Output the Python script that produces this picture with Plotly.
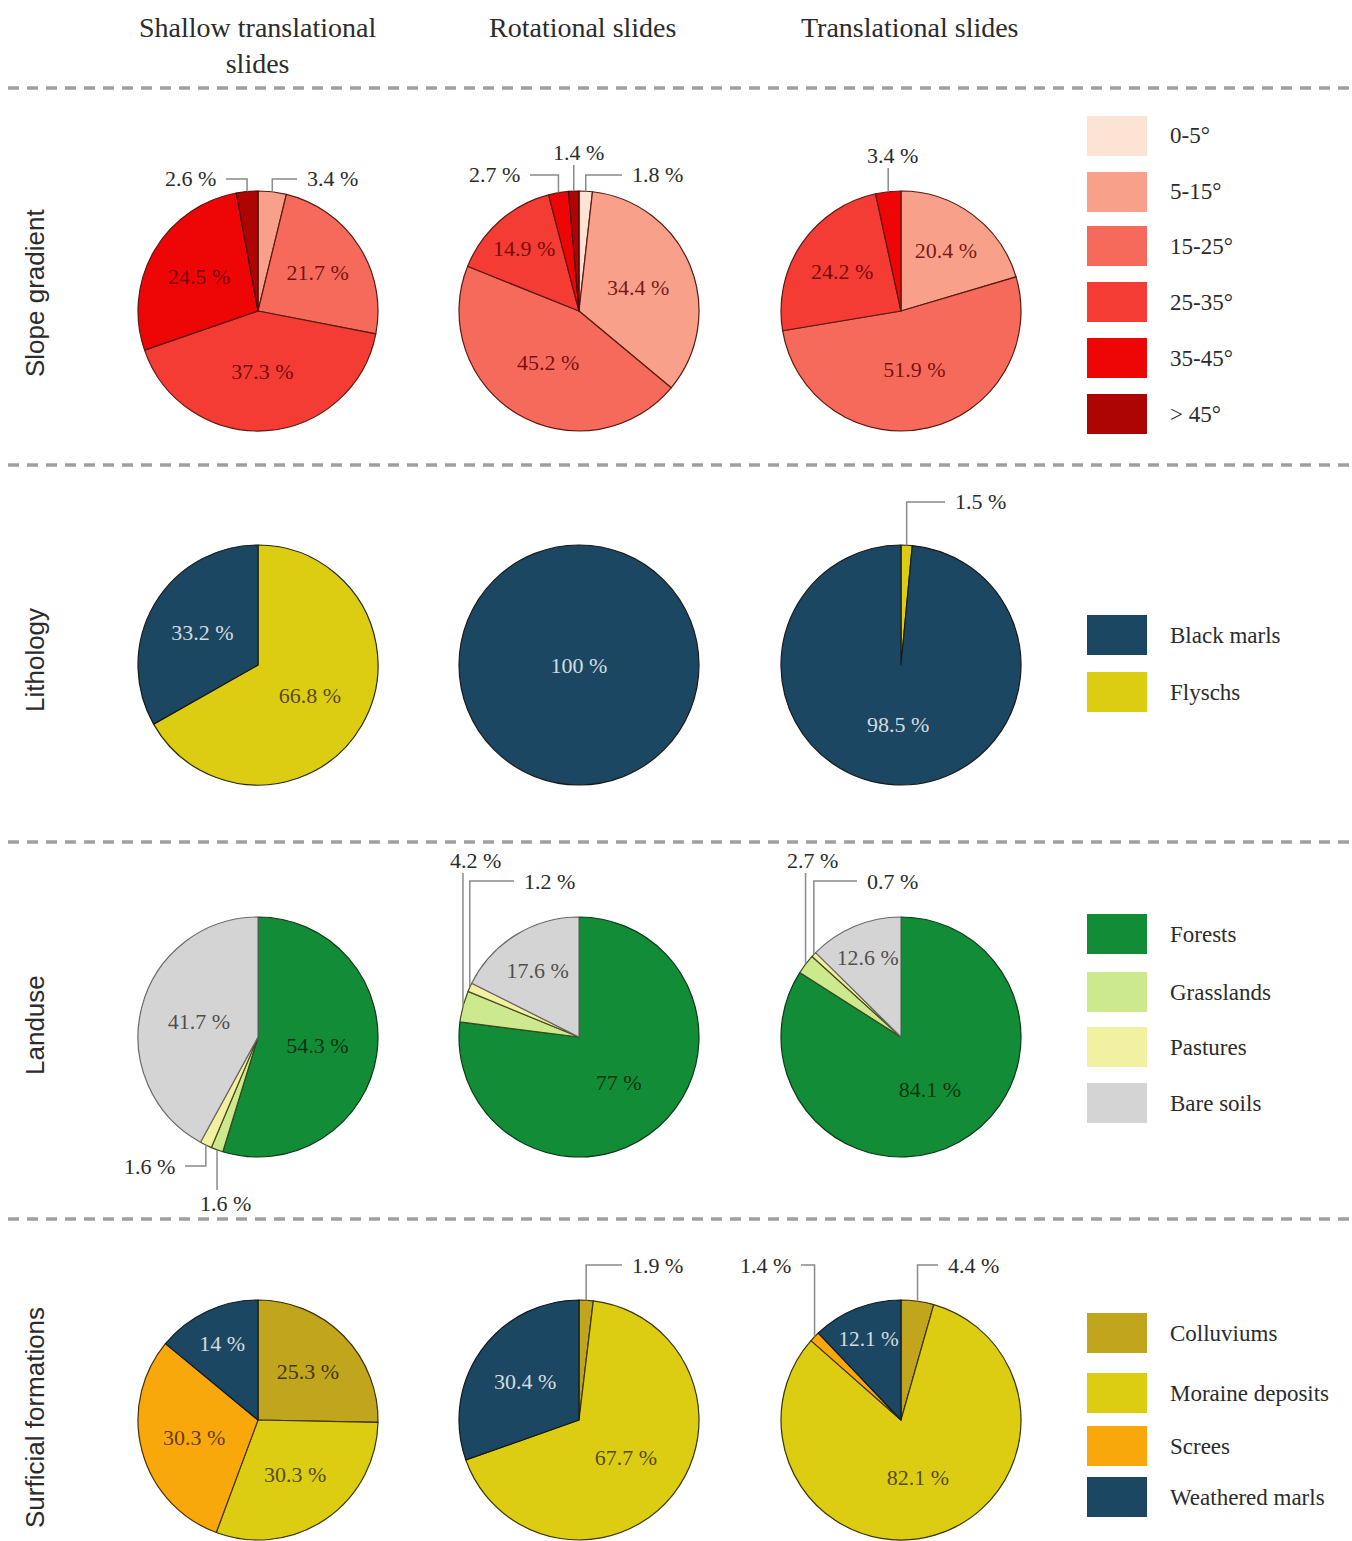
import math
import plotly.graph_objects as go

W, H = 1352, 1541

# ---------------- data ----------------
column_titles = ["Shallow translational<br>slides", "Rotational slides", "Translational slides"]
row_titles = ["Slope gradient", "Lithology", "Landuse", "Surficial formations"]

slope_labels = ["0-5°", "5-15°", "15-25°", "25-35°", "35-45°", "> 45°"]
slope_shallow = [0, 3.4, 21.7, 37.3, 24.5, 2.6]
slope_rotational = [1.8, 34.4, 45.2, 14.9, 2.7, 1.4]
slope_translational = [0, 20.4, 51.9, 24.2, 3.4, 0]

litho_labels = ["Black marls", "Flyschs"]
litho_shallow = [33.2, 66.8]
litho_rotational = [100, 0]
litho_translational = [98.5, 1.5]
litho_pie_order = ["Flyschs", "Black marls"]  # clockwise order from 12 o'clock

landuse_labels = ["Forests", "Grasslands", "Pastures", "Bare soils"]
landuse_shallow = [54.3, 1.6, 1.6, 41.7]
landuse_rotational = [77, 4.2, 1.2, 17.6]
landuse_translational = [84.1, 2.7, 0.7, 12.6]

surf_labels = ["Colluviums", "Moraine deposits", "Screes", "Weathered marls"]
surf_shallow = [25.3, 30.3, 30.3, 14]
surf_rotational = [1.9, 67.7, 0, 30.4]
surf_translational = [4.4, 82.1, 1.4, 12.1]

# ---------------- styles ----------------
SERIF = "Liberation Serif, Times New Roman, serif"
SANS = "Liberation Sans, Arial, sans-serif"
TXT = "#2b2b2b"

fill = {
    "0-5°": "#fde3d4", "5-15°": "#f9a08a", "15-25°": "#f66a5c",
    "25-35°": "#f43c34", "35-45°": "#ee0606", "> 45°": "#ad0404",
    "Black marls": "#1c4762", "Flyschs": "#dccc12",
    "Forests": "#128c37", "Grasslands": "#cde98e", "Pastures": "#f2f1a2", "Bare soils": "#d4d4d4",
    "Colluviums": "#c1a51c", "Moraine deposits": "#dccc12", "Screes": "#f9a80c", "Weathered marls": "#1c4762",
}
edge = {
    "0-5°": "#5a1a10", "5-15°": "#5a1a10", "15-25°": "#5a1a10", "25-35°": "#5a1a10",
    "35-45°": "#5a1a10", "> 45°": "#4a0808",
    "Black marls": "#1a1a1a", "Flyschs": "#2a2a10",
    "Forests": "#0c3a18", "Grasslands": "#3a4a20", "Pastures": "#4a4a20", "Bare soils": "#6a6a6a",
    "Colluviums": "#3a3000", "Moraine deposits": "#3a3500", "Screes": "#4a3000", "Weathered marls": "#101a20",
}
inner_text = {
    "Black marls": "rgba(255,255,255,0.82)", "Weathered marls": "rgba(255,255,255,0.82)",
    "Flyschs": "rgba(60,50,0,0.85)", "Moraine deposits": "rgba(60,50,0,0.85)",
    "Colluviums": "rgba(50,38,0,0.88)", "Screes": "rgba(85,40,0,0.88)",
    "Forests": "rgba(0,40,8,0.88)", "Bare soils": "rgba(60,60,60,0.9)",
}
for k in slope_labels:
    inner_text[k] = "rgba(95,0,0,0.85)"

col_x = [258, 579, 901]
row_y = [311, 665, 1037, 1420]
R = 120

legend_rows = [
    (slope_labels, [136, 192, 246, 302, 358, 414]),
    (litho_labels, [635, 692]),
    (landuse_labels, [934, 992, 1047, 1103]),
    (surf_labels, [1333, 1393, 1446, 1497]),
]

# call-out placement (layout only): (row, col, label) -> (mode, label x, label y)
callouts = {
    (0, 0, "5-15°"): ("right", 305, 179),
    (0, 0, "> 45°"): ("left", 218, 179),
    (0, 1, "35-45°"): ("left", 522, 175),
    (0, 1, "> 45°"): ("up", 578, 152),
    (0, 1, "0-5°"): ("right", 630, 175),
    (0, 2, "35-45°"): ("up", 892, 155),
    (1, 2, "Flyschs"): ("right", 953, 502),
    (2, 0, "Pastures"): ("left", 177, 1166),
    (2, 0, "Grasslands"): ("down", 225, 1203),
    (2, 1, "Grasslands"): ("up", 475, 860),
    (2, 1, "Pastures"): ("right", 522, 881),
    (2, 2, "Grasslands"): ("up", 812, 860),
    (2, 2, "Pastures"): ("right", 865, 881),
    (3, 1, "Colluviums"): ("right", 630, 1265),
    (3, 2, "Screes"): ("left", 793, 1265),
    (3, 2, "Colluviums"): ("right", 946, 1265),
}


def px(x):
    return x / W


def py(y):
    return 1 - y / H


def fmt(v):
    return f"{v:g} %"


grid = [
    (slope_labels, [slope_shallow, slope_rotational, slope_translational], slope_labels),
    (litho_labels, [litho_shallow, litho_rotational, litho_translational], litho_pie_order),
    (landuse_labels, [landuse_shallow, landuse_rotational, landuse_translational], landuse_labels),
    (surf_labels, [surf_shallow, surf_rotational, surf_translational], surf_labels),
]

fig = go.Figure()
shapes = []
annotations = []

for ri, (labels, series_list, order) in enumerate(grid):
    for ci, series in enumerate(series_list):
        val = dict(zip(labels, series))
        labs = [l for l in order if val[l] > 0]
        vals = [val[l] for l in labs]
        total = sum(vals)
        texts = [fmt(v) if v >= 5 else "" for v in vals]
        cx, cy = col_x[ci], row_y[ri]
        fig.add_trace(go.Pie(
            labels=labs, values=vals, text=texts, textinfo="text",
            textposition="inside", insidetextorientation="horizontal",
            sort=False, direction="clockwise", rotation=0,
            marker=dict(colors=[fill[l] for l in labs],
                        line=dict(color=[edge[l] for l in labs], width=1.2)),
            textfont=dict(family=SERIF, size=22, color=[inner_text.get(l, TXT) for l in labs]),
            domain=dict(x=[px(cx - R), px(cx + R)], y=[py(cy + R), py(cy - R)]),
            showlegend=False, hoverinfo="label+text",
        ))
        # call-outs for small slices, anchored on the slice mid-angle
        cum = 0
        for l, v in zip(labs, vals):
            key = (ri, ci, l)
            if key in callouts:
                mode, lx, ly = callouts[key]
                ang = math.radians(360 * (cum + v / 2) / total)
                ax = cx + R * math.sin(ang)
                ay = cy - R * math.cos(ang)
                if mode == "right":
                    path = f"M{px(ax)},{py(ay)} L{px(ax)},{py(ly)} L{px(lx - 8)},{py(ly)}"
                    annotations.append(dict(x=px(lx), y=py(ly), text=fmt(v), xanchor="left", yanchor="middle"))
                elif mode == "left":
                    path = f"M{px(ax)},{py(ay)} L{px(ax)},{py(ly)} L{px(lx + 8)},{py(ly)}"
                    annotations.append(dict(x=px(lx), y=py(ly), text=fmt(v), xanchor="right", yanchor="middle"))
                elif mode == "up":
                    path = f"M{px(ax)},{py(ay)} L{px(ax)},{py(ly + 13)}"
                    annotations.append(dict(x=px(lx), y=py(ly), text=fmt(v), xanchor="center", yanchor="middle"))
                else:
                    path = f"M{px(ax)},{py(ay)} L{px(ax)},{py(ly - 13)}"
                    annotations.append(dict(x=px(lx), y=py(ly), text=fmt(v), xanchor="center", yanchor="middle"))
                shapes.append(dict(type="path", path=path, xref="paper", yref="paper",
                                   line=dict(color="#8a8a8a", width=1.5)))
            cum += v

for a in annotations:
    a.update(xref="paper", yref="paper", showarrow=False,
             font=dict(family=SERIF, size=22, color=TXT))

# column titles
for ci, t in enumerate(column_titles):
    yy = 45 if "<br>" in t else 28
    xx = [257, 582, 910][ci]
    annotations.append(dict(x=px(xx), y=py(yy), text=t, xref="paper", yref="paper",
                            showarrow=False, xanchor="center", yanchor="middle",
                            font=dict(family=SERIF, size=28, color=TXT)))

# row titles
for ri, t in enumerate(row_titles):
    yy = [293, 660, 1025, 1418][ri]
    annotations.append(dict(x=px(35), y=py(yy), text=t, xref="paper", yref="paper",
                            showarrow=False, xanchor="center", yanchor="middle", textangle=-90,
                            font=dict(family=SANS, size=26, color=TXT)))

# dashed separators
for yy in [88, 465, 842, 1219]:
    shapes.append(dict(type="line", xref="paper", yref="paper", x0=px(8), x1=1, y0=py(yy), y1=py(yy),
                       line=dict(color="#a0a0a0", width=3.5, dash="11px,8px")))

# legends
for labels, ys in legend_rows:
    for l, yy in zip(labels, ys):
        shapes.append(dict(type="rect", xref="paper", yref="paper",
                           x0=px(1087), x1=px(1147), y0=py(yy + 20), y1=py(yy - 20),
                           fillcolor=fill[l], line=dict(width=0)))
        annotations.append(dict(x=px(1168), y=py(yy), text=l, xref="paper", yref="paper",
                                showarrow=False, xanchor="left", yanchor="middle",
                                font=dict(family=SERIF, size=23, color=TXT)))

fig.update_layout(
    width=W, height=H, margin=dict(l=0, r=0, t=0, b=0, pad=0),
    paper_bgcolor="white", plot_bgcolor="white",
    shapes=shapes, annotations=annotations,
    uniformtext=dict(mode=False),
)

fig.write_html("out.html", config={"displayModeBar": False},
               post_script="document.body.style.margin='0px';document.body.style.overflow='hidden';")
